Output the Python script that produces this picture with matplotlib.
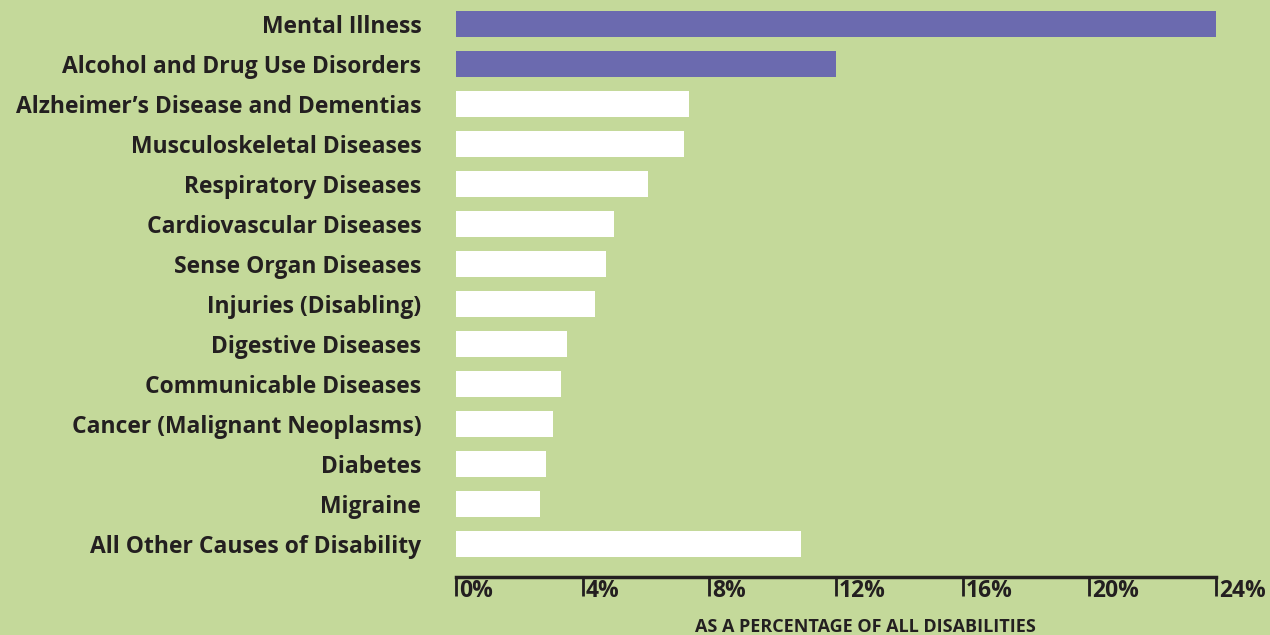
import matplotlib.pyplot as plt
import matplotlib.transforms as mtransforms

# Share of all disabilities by cause (percent)
causes = ['Mental Illness', 'Alcohol and Drug Use Disorders',
          'Alzheimer\u2019s Disease and Dementias', 'Musculoskeletal Diseases',
          'Respiratory Diseases', 'Cardiovascular Diseases', 'Sense Organ Diseases',
          'Injuries (Disabling)', 'Digestive Diseases', 'Communicable Diseases',
          'Cancer (Malignant Neoplasms)', 'Diabetes', 'Migraine',
          'All Other Causes of Disability']
shares = [24.0, 12.0, 7.35, 7.2, 6.05, 5.0, 4.75, 4.4, 3.5, 3.3, 3.05, 2.85, 2.65, 10.9]
highlight = [True, True, False, False, False, False, False, False, False, False,
             False, False, False, False]
ticks = [0, 4, 8, 12, 16, 20, 24]
tick_labels = ['0%', '4%', '8%', '12%', '16%', '20%', '24%']

bg = '#c4d99a'
purple = '#6b6aaf'
ink = '#231f20'
font = 'Open Sans'

fig = plt.figure(figsize=(12.7, 6.35), dpi=100, facecolor=bg)
ax = fig.add_axes([456 / 1270, 58 / 635, 760 / 1270, 573 / 635])
ax.set_facecolor(bg)

colors = [purple if h else 'white' for h in highlight]
ax.barh(range(len(causes)), shares, height=0.65, color=colors, left=0)

ax.set_xlim(0, 24)
ax.set_ylim(len(causes) - 0.175, -0.5)

ax.set_yticks(range(len(causes)))
ax.set_yticklabels(causes, fontsize=16.5, fontweight='bold', color=ink, family=font)
ax.tick_params(axis='y', length=0, pad=25)

for s in ['top', 'right', 'left']:
    ax.spines[s].set_visible(False)
ax.spines['bottom'].set_linewidth(2.5)
ax.spines['bottom'].set_color(ink)

ax.set_xticks(ticks)
ax.set_xticklabels([])
ax.tick_params(axis='x', direction='out', length=14, width=2, color=ink)

# tick labels sit to the right of each tick mark
trans = mtransforms.blended_transform_factory(ax.transData, ax.transAxes)
for t, lab in zip(ticks, tick_labels):
    ax.text(t + 0.1, -0.003, lab, transform=trans, ha='left', va='top',
            fontsize=16.5, fontweight='bold', color=ink, family=font)

fig.text(865 / 1270, 8 / 635, 'AS A PERCENTAGE OF ALL DISABILITIES', ha='center',
         va='center', fontsize=13, fontweight='bold', color=ink, family=font)

fig.savefig('out.png', dpi=100, facecolor=bg)
